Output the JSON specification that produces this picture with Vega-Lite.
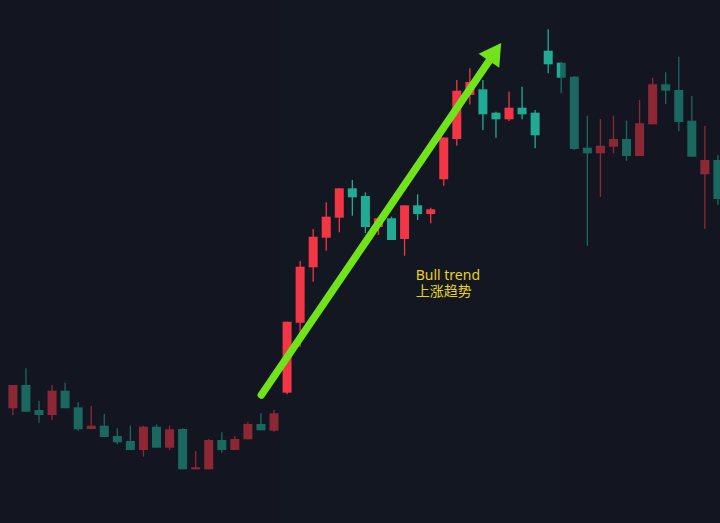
{
  "$schema": "https://vega.github.io/schema/vega-lite/v6.json",
  "width": 720,
  "height": 523,
  "autosize": {"type": "fit", "contains": "padding"},
  "padding": 0,
  "background": "#131722",
  "config": {"view": {"stroke": null}},
  "datasets": {
    "candles": [
      {"i": 0, "o": 114.7, "h": 138, "l": 108, "c": 138},
      {"i": 1, "o": 138, "h": 154.7, "l": 111, "c": 111.3},
      {"i": 2, "o": 113, "h": 122, "l": 100.3, "c": 108},
      {"i": 3, "o": 108, "h": 138, "l": 103, "c": 132.3},
      {"i": 4, "o": 132.3, "h": 140.3, "l": 114.7, "c": 114.7},
      {"i": 5, "o": 115.7, "h": 120.7, "l": 92.3, "c": 93.7},
      {"i": 6, "o": 94, "h": 117, "l": 94, "c": 97.3},
      {"i": 7, "o": 97.3, "h": 109, "l": 86, "c": 86},
      {"i": 8, "o": 87, "h": 94.7, "l": 78.7, "c": 80.7},
      {"i": 9, "o": 82, "h": 97.3, "l": 73, "c": 73},
      {"i": 10, "o": 73, "h": 97.3, "l": 66.3, "c": 96.3},
      {"i": 11, "o": 96.3, "h": 98.7, "l": 75.3, "c": 75.3},
      {"i": 12, "o": 75.3, "h": 97.3, "l": 73, "c": 93.7},
      {"i": 13, "o": 94, "h": 94.7, "l": 53.7, "c": 53.7},
      {"i": 14, "o": 53.7, "h": 72, "l": 53.7, "c": 55.7},
      {"i": 15, "o": 53.7, "h": 84, "l": 53.7, "c": 83},
      {"i": 16, "o": 83, "h": 90.7, "l": 70.3, "c": 73},
      {"i": 17, "o": 73, "h": 87, "l": 73, "c": 84},
      {"i": 18, "o": 83.7, "h": 101.3, "l": 83.7, "c": 99},
      {"i": 19, "o": 99, "h": 109.7, "l": 92.7, "c": 92.7},
      {"i": 20, "o": 92.3, "h": 113, "l": 91.3, "c": 109.7},
      {"i": 21, "o": 130.3, "h": 201.3, "l": 128.7, "c": 201.3},
      {"i": 22, "o": 200.3, "h": 262, "l": 176.3, "c": 256.3},
      {"i": 23, "o": 255.7, "h": 294, "l": 241.3, "c": 286.3},
      {"i": 24, "o": 285.3, "h": 320.7, "l": 272.3, "c": 306.3},
      {"i": 25, "o": 305.3, "h": 334.7, "l": 290.7, "c": 334.7},
      {"i": 26, "o": 334.7, "h": 343, "l": 307.3, "c": 325.7},
      {"i": 27, "o": 327, "h": 330.7, "l": 290, "c": 296},
      {"i": 28, "o": 296, "h": 306, "l": 288, "c": 304.7},
      {"i": 29, "o": 304.7, "h": 306.3, "l": 283, "c": 283},
      {"i": 30, "o": 284, "h": 317.7, "l": 267.3, "c": 317.7},
      {"i": 31, "o": 317.7, "h": 328.7, "l": 303, "c": 309},
      {"i": 32, "o": 309, "h": 315.3, "l": 299.7, "c": 313.7},
      {"i": 33, "o": 343.7, "h": 385.5, "l": 337.3, "c": 385.5},
      {"i": 34, "o": 384, "h": 443, "l": 377.3, "c": 432.3},
      {"i": 35, "o": 428, "h": 454.7, "l": 418.5, "c": 441},
      {"i": 36, "o": 433.7, "h": 443, "l": 393, "c": 408.7},
      {"i": 37, "o": 410.3, "h": 411.3, "l": 385.3, "c": 403.7},
      {"i": 38, "o": 403.7, "h": 431.3, "l": 402, "c": 415.3},
      {"i": 39, "o": 415.3, "h": 436.3, "l": 403.7, "c": 408.7},
      {"i": 40, "o": 410.3, "h": 413, "l": 374.7, "c": 387.7},
      {"i": 41, "o": 472.3, "h": 493.7, "l": 449.7, "c": 458.7},
      {"i": 42, "o": 460.3, "h": 461.3, "l": 429.7, "c": 445.3},
      {"i": 43, "o": 446.3, "h": 447, "l": 373, "c": 374},
      {"i": 44, "o": 375.3, "h": 407.3, "l": 277.3, "c": 369.7},
      {"i": 45, "o": 369.7, "h": 404, "l": 326, "c": 377.3},
      {"i": 46, "o": 376.3, "h": 407.3, "l": 369.7, "c": 384},
      {"i": 47, "o": 384, "h": 402.3, "l": 362, "c": 367},
      {"i": 48, "o": 367, "h": 423, "l": 367, "c": 399.7},
      {"i": 49, "o": 398.7, "h": 445.3, "l": 398.7, "c": 438.7},
      {"i": 50, "o": 438.7, "h": 450.7, "l": 419, "c": 432.3},
      {"i": 51, "o": 433, "h": 466.3, "l": 392, "c": 401},
      {"i": 52, "o": 402.3, "h": 427, "l": 366.3, "c": 366.3},
      {"i": 53, "o": 348.7, "h": 397, "l": 294, "c": 363},
      {"i": 54, "o": 363, "h": 368, "l": 318, "c": 324}
    ],
    "dim": [
      {"x1": -2, "x2": 20.51},
      {"x1": 41.92, "x2": 60}
    ],
    "arrow": [
      {"i": 19.03, "p": 128},
      {"i": 36.5, "p": 462.7}
    ],
    "head": [
      {"i": 36.93, "p": 471.2}
    ],
    "note": [
      {"i": 30.85, "p": 242.6, "label": "Bull trend\n上涨趋势"}
    ]
  },
  "layer": [
    {
      "data": {"name": "candles"},
      "mark": {"type": "rule", "strokeWidth": 1.3, "clip": true},
      "encoding": {
        "x": {"field": "i", "type": "quantitative", "scale": {"domain": [-0.6042, 53.776], "nice": false, "zero": false}, "axis": null},
        "y": {"field": "l", "type": "quantitative", "scale": {"domain": [0, 523], "nice": false, "zero": false}, "axis": null},
        "y2": {"field": "h"},
        "color": {"condition": {"test": "datum.c > datum.o", "value": "#f23645"}, "value": "#22ab94"}
      }
    },
    {
      "data": {"name": "candles"},
      "mark": {"type": "bar", "size": 9, "clip": true},
      "encoding": {
        "x": {"field": "i", "type": "quantitative", "scale": {"domain": [-0.6042, 53.776], "nice": false, "zero": false}, "axis": null},
        "y": {"field": "o", "type": "quantitative", "scale": {"domain": [0, 523], "nice": false, "zero": false}, "axis": null},
        "y2": {"field": "c"},
        "color": {"condition": {"test": "datum.c > datum.o", "value": "#f23645"}, "value": "#22ab94"}
      }
    },
    {
      "data": {"name": "dim"},
      "mark": {"type": "rect", "color": "#131722", "opacity": 0.45, "clip": true},
      "encoding": {
        "x": {"field": "x1", "type": "quantitative", "scale": {"domain": [-0.6042, 53.776], "nice": false, "zero": false}, "axis": null},
        "x2": {"field": "x2"},
        "y": {"datum": 0, "type": "quantitative", "scale": {"domain": [0, 523], "nice": false, "zero": false}, "axis": null},
        "y2": {"datum": 523}
      }
    },
    {
      "data": {"name": "arrow"},
      "mark": {"type": "line", "strokeWidth": 7.5, "strokeCap": "round", "color": "#70e31a", "clip": true},
      "encoding": {
        "x": {"field": "i", "type": "quantitative", "scale": {"domain": [-0.6042, 53.776], "nice": false, "zero": false}, "axis": null},
        "y": {"field": "p", "type": "quantitative", "scale": {"domain": [0, 523], "nice": false, "zero": false}, "axis": null}
      }
    },
    {
      "data": {"name": "head"},
      "mark": {"type": "point", "shape": "triangle-up", "filled": true, "size": 625, "angle": 34.5, "color": "#70e31a", "opacity": 1, "strokeWidth": 0},
      "encoding": {
        "x": {"field": "i", "type": "quantitative", "scale": {"domain": [-0.6042, 53.776], "nice": false, "zero": false}, "axis": null},
        "y": {"field": "p", "type": "quantitative", "scale": {"domain": [0, 523], "nice": false, "zero": false}, "axis": null}
      }
    },
    {
      "data": {"name": "note"},
      "mark": {"type": "text", "align": "left", "baseline": "alphabetic", "font": "Noto Sans, Noto Sans CJK SC", "fontSize": 14, "color": "#e9d21c", "lineBreak": "\n", "lineHeight": 16},
      "encoding": {
        "x": {"field": "i", "type": "quantitative", "scale": {"domain": [-0.6042, 53.776], "nice": false, "zero": false}, "axis": null},
        "y": {"field": "p", "type": "quantitative", "scale": {"domain": [0, 523], "nice": false, "zero": false}, "axis": null},
        "text": {"field": "label"}
      }
    }
  ]
}
